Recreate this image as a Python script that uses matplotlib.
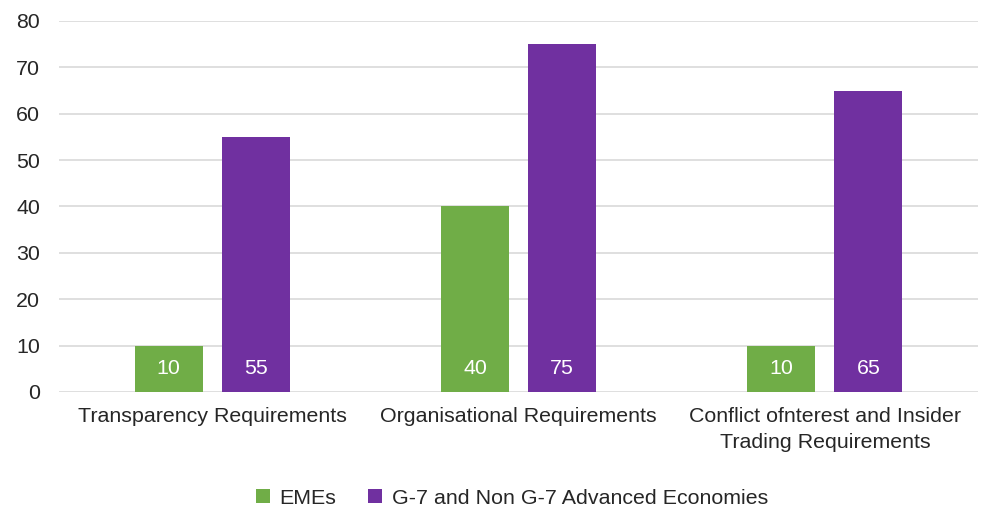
import matplotlib.pyplot as plt
import numpy as np

plt.rcParams['font.family'] = ['Liberation Sans', 'DejaVu Sans']

categories = ['Transparency Requirements', 'Organisational Requirements',
              'Conflict ofnterest and Insider\nTrading Requirements']
emes = [10, 40, 10]
g7 = [55, 75, 65]
series_names = ['EMEs', 'G-7 and Non G-7 Advanced Economies']

green = '#70ad47'
purple = '#7030a0'
fs = 15.4

fig = plt.figure(figsize=(9.81, 5.11), dpi=100)
ax = fig.add_axes([0.060, 0.233, 0.937, 0.726])

x = np.arange(len(categories))
w = 0.222
off = 0.142
b1 = ax.bar(x - off, emes, w, color=green, label=series_names[0], zorder=3)
b2 = ax.bar(x + off, g7, w, color=purple, label=series_names[1], zorder=3)

for bars, vals in ((b1, emes), (b2, g7)):
    for r, v in zip(bars, vals):
        ax.text(r.get_x() + r.get_width() / 2, 5, str(v), ha='center', va='center',
                color='white', fontsize=fs, zorder=4)

ax.set_xlim(-0.5, 2.5)
ax.set_ylim(0, 80)
ax.set_yticks(range(0, 81, 10))
ax.set_xticks(x)
ax.set_xticklabels(categories, fontsize=fs, color='#262626', linespacing=1.45)
ax.tick_params(axis='y', labelsize=fs, labelcolor='#262626', length=0, pad=13.5)
ax.tick_params(axis='x', length=0, pad=11)
ax.grid(axis='y', color='#d9d9d9', linewidth=1.2, zorder=0)
for s in ax.spines.values():
    s.set_visible(False)

fig.legend(handles=[b1, b2], loc='center', bbox_to_anchor=(0.522, 0.025), ncol=2,
           frameon=False, fontsize=fs, handlelength=0.65, handleheight=0.65,
           handletextpad=0.45, columnspacing=1.5, labelcolor='#262626')

fig.savefig('out.png', dpi=100)
